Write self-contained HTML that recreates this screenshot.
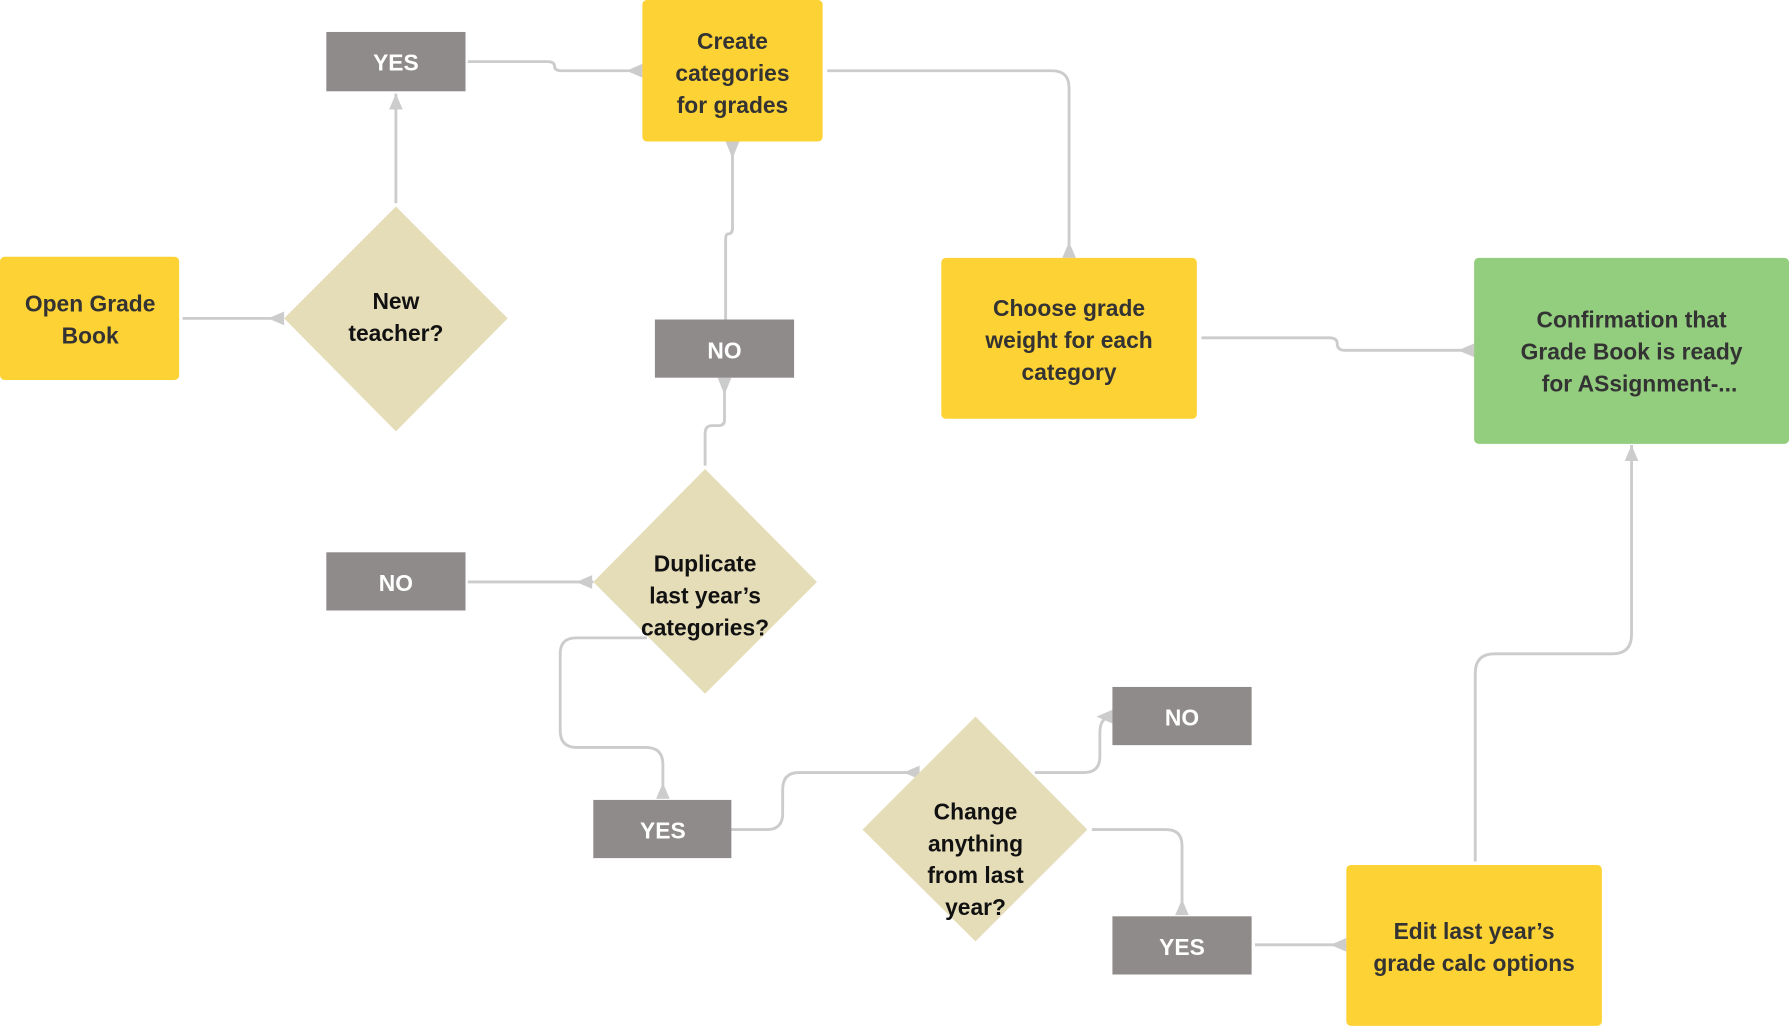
<!DOCTYPE html>
<html><head><meta charset="utf-8"><style>
html,body{margin:0;padding:0;background:#fff;}
svg{display:block;}
text{font-family:"Liberation Sans",Arial,sans-serif;font-weight:bold;font-size:20px;text-anchor:middle;}
.y{fill:#333;} .d{fill:#111;} .g{fill:#fff;}
</style></head><body>
<svg width="1789" height="1027" viewBox="0 0 1568 900" preserveAspectRatio="none" xmlns="http://www.w3.org/2000/svg">
<g fill="none" stroke="#cccccc" stroke-width="2.5">
<path d="M160 279 H249"/>
<path d="M347 178 V82"/>
<path d="M410 54 H480 Q486 54 486 58 Q486 62 492 62 H563"/>
<path d="M642 124 V200 Q642 205 638 205 Q636 205 636 210 V280"/>
<path d="M635 331 V368 Q635 373 630 373 H624 Q618 373 618 380 V408"/>
<path d="M410 510 H520"/>
<path d="M567 559 H505 Q491 559 491 573 V640 Q491 655 505 655 H566 Q581 655 581 670 V700"/>
<path d="M620 727 H672 Q686 727 686 713 V692 Q686 677 700 677 H805"/>
<path d="M907 677 H950 Q964 677 964 663 V642 Q964 628 975 628"/>
<path d="M957 727 H1022 Q1036 727 1036 741 V802"/>
<path d="M1100 828 H1180"/>
<path d="M1293 755 V590 Q1293 573 1310 573 H1413 Q1430 573 1430 556 V390"/>
<path d="M725 62 H922 Q937 62 937 77 V226"/>
<path d="M1053 296 H1165 Q1172 296 1172 301 Q1172 307 1179 307 H1292"/>
</g>
<g fill="#cccccc">
<polygon points="235,279 249,273 249,285"/>
<polygon points="347,82 341,96 353,96"/>
<polygon points="549,62 563,56 563,68"/>
<polygon points="642,139 636,124 648,124"/>
<polygon points="635,346 629,331 641,331"/>
<polygon points="505,510 519,504 519,516"/>
<polygon points="581,686 575,700 587,700"/>
<polygon points="792,677 806,671 806,683"/>
<polygon points="961,628 975,622 975,634"/>
<polygon points="1036,788 1030,802 1042,802"/>
<polygon points="1166,828 1180,822 1180,834"/>
<polygon points="1430,390 1424,404 1436,404"/>
<polygon points="937,212 931,226 943,226"/>
<polygon points="1278,307 1292,301 1292,313"/>
</g>
<rect x="0" y="225" width="157" height="108" rx="4" fill="#FDD235"/>
<text class="y" x="79" y="273">Open Grade</text><text class="y" x="79" y="301">Book</text>
<polygon points="347,181 445,279 347,378 249,279" fill="#E5DCB8"/>
<text class="d" x="347" y="271">New</text><text class="d" x="347" y="299">teacher?</text>
<rect x="286" y="28" width="122" height="52" fill="#8F8B8A"/><text class="g" x="347" y="62">YES</text>
<rect x="563" y="0" width="158" height="124" rx="4" fill="#FDD235"/>
<text class="y" x="642" y="43">Create</text><text class="y" x="642" y="71">categories</text><text class="y" x="642" y="99">for grades</text>
<rect x="574" y="280" width="122" height="51" fill="#8F8B8A"/><text class="g" x="635" y="314">NO</text>
<polygon points="618,411 716,510 618,608 520,510" fill="#E5DCB8"/>
<text class="d" x="618" y="501">Duplicate</text><text class="d" x="618" y="529">last year’s</text><text class="d" x="618" y="557">categories?</text>
<rect x="286" y="484" width="122" height="51" fill="#8F8B8A"/><text class="g" x="347" y="518">NO</text>
<rect x="520" y="701" width="121" height="51" fill="#8F8B8A"/><text class="g" x="581" y="735">YES</text>
<polygon points="855,628 953,727 855,825 756,727" fill="#E5DCB8"/>
<text class="d" x="855" y="718">Change</text><text class="d" x="855" y="746">anything</text><text class="d" x="855" y="774">from last</text><text class="d" x="855" y="802">year?</text>
<rect x="975" y="602" width="122" height="51" fill="#8F8B8A"/><text class="g" x="1036" y="636">NO</text>
<rect x="975" y="803" width="122" height="51" fill="#8F8B8A"/><text class="g" x="1036" y="837">YES</text>
<rect x="1180" y="758" width="224" height="141" rx="4" fill="#FDD235"/>
<text class="y" x="1292" y="823">Edit last year’s</text><text class="y" x="1292" y="851">grade calc options</text>
<rect x="825" y="226" width="224" height="141" rx="4" fill="#FDD235"/>
<text class="y" x="937" y="277">Choose grade</text><text class="y" x="937" y="305">weight for each</text><text class="y" x="937" y="333">category</text>
<rect x="1292" y="226" width="276" height="163" rx="4" fill="#93CD7E"/>
<text class="y" x="1430" y="287">Confirmation that</text><text class="y" x="1430" y="315">Grade Book is ready</text><text class="y" x="1437" y="343">for ASsignment-...</text>
</svg>
</body></html>
